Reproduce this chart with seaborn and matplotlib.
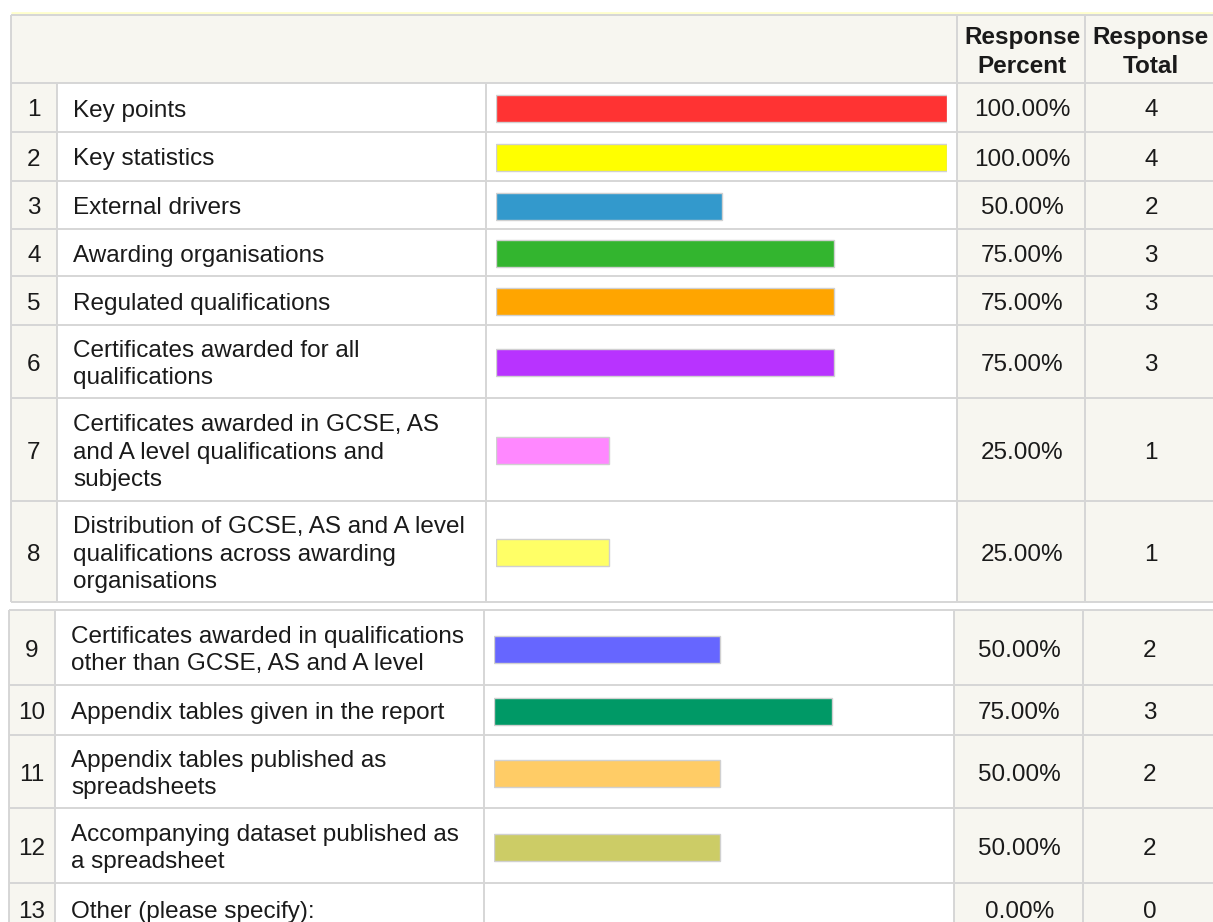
import matplotlib
matplotlib.use("Agg")
import matplotlib.pyplot as plt
from matplotlib.patches import Rectangle
import numpy as np
import pandas as pd
import seaborn as sns

# ---------------- data ----------------
numbers = list(range(1, 14))
labels = [
    "Key points",
    "Key statistics",
    "External drivers",
    "Awarding organisations",
    "Regulated qualifications",
    "Certificates awarded for all\nqualifications",
    "Certificates awarded in GCSE, AS\nand A level qualifications and\nsubjects",
    "Distribution of GCSE, AS and A level\nqualifications across awarding\norganisations",
    "Certificates awarded in qualifications\nother than GCSE, AS and A level",
    "Appendix tables given in the report",
    "Appendix tables published as\nspreadsheets",
    "Accompanying dataset published as\na spreadsheet",
    "Other (please specify):",
]
percents = [100, 100, 50, 75, 75, 75, 25, 25, 50, 75, 50, 50, 0]
totals = [4, 4, 2, 3, 3, 3, 1, 1, 2, 3, 2, 2, 0]
bar_colors = ["#FF3333", "#FFFF00", "#3399CC", "#33B52F", "#FFA500", "#B833FF",
              "#FF88FF", "#FFFF66", "#6666FF", "#009966", "#FFCC66", "#CCCC66", "#CCCCCC"]
header_percent = "Response\nPercent"
header_total = "Response\nTotal"

# ---------------- style ----------------
sns.set_style("white")
plt.rcParams["font.family"] = ["Liberation Sans", "DejaVu Sans"]

W, H = 1213, 922
FS = 17.5
TXT = "#1a1a1a"
BEIGE = "#F7F6F0"
GRID = "#D6D6D6"
LW = 1.4
DY = 3  # text baseline nudge

fig = plt.figure(figsize=(W / 100, H / 100), dpi=100)
fig.patch.set_facecolor("white")
ax = fig.add_axes([0, 0, 1, 1])
ax.set_xlim(0, W)
ax.set_ylim(H, 0)
ax.axis("off")

# header
hdr_top, hdr_bot = 15, 83
ax.add_patch(Rectangle((11, hdr_top), W - 11, hdr_bot - hdr_top, facecolor=BEIGE, edgecolor="none", zorder=0))
ax.plot([11, W], [13, 13], color="#FFFFCC", lw=2, zorder=2, solid_capstyle="butt")
ax.plot([11, W], [hdr_top, hdr_top], color=GRID, lw=LW, zorder=2, solid_capstyle="butt")
for xc in [11, 957, 1085]:
    ax.plot([xc, xc], [hdr_top, hdr_bot], color=GRID, lw=LW, zorder=2, solid_capstyle="butt")
ax.text(1022, (hdr_top + hdr_bot) / 2 + DY, header_percent, ha="center", va="center",
        fontsize=FS, fontweight="bold", color=TXT, linespacing=1.3)
ax.text(1151, (hdr_top + hdr_bot) / 2 + DY, header_total, ha="center", va="center",
        fontsize=FS, fontweight="bold", color=TXT, linespacing=1.3)

pieces = [
    dict(rows=list(range(0, 8)), edges=[83, 132, 181, 229, 276, 325, 398, 501, 602],
         cols=[11, 57, 486, 957, 1085, W], text_x=73, bar_x=496),
    dict(rows=list(range(8, 13)), edges=[610, 685, 735, 808, 883, 935],
         cols=[9, 55, 484, 954, 1083, W], text_x=71, bar_x=494),
]
BAR_FULL = 451
BAR_H = 27

for pc in pieces:
    e = pc["edges"]
    c = pc["cols"]
    top, bot = e[0], e[-1]
    # cell backgrounds
    for (x0, x1, col) in [(c[0], c[1], BEIGE), (c[1], c[3], "white"), (c[3], c[5], BEIGE)]:
        ax.add_patch(Rectangle((x0, top), x1 - x0, bot - top, facecolor=col, edgecolor="none", zorder=0))
    for yy in e:
        ax.plot([c[0], W], [yy, yy], color=GRID, lw=LW, zorder=2, solid_capstyle="butt")
    for xx in c[:5]:
        ax.plot([xx, xx], [top, bot], color=GRID, lw=LW, zorder=2, solid_capstyle="butt")

    centers = [(e[k] + e[k + 1]) / 2 for k in range(len(pc["rows"]))]
    for k, i in enumerate(pc["rows"]):
        yc = centers[k] + DY
        ax.text((c[0] + c[1]) / 2, yc, str(numbers[i]), ha="center", va="center", fontsize=FS, color=TXT)
        ax.text(pc["text_x"], yc, labels[i], ha="left", va="center", fontsize=FS, color=TXT, linespacing=1.32)
        ax.text((c[3] + c[4]) / 2 + 1, yc, f"{percents[i]:.2f}%", ha="center", va="center", fontsize=FS, color=TXT)
        ax.text((c[4] + c[5]) / 2 + 2, yc, str(totals[i]), ha="center", va="center", fontsize=FS, color=TXT)

    # bars through seaborn on a numeric (native) scale
    df = pd.DataFrame({
        "pos": [centers[k] + 1.5 for k in range(len(pc["rows"]))],
        "pct": [percents[i] for i in pc["rows"]],
        "item": [labels[i] for i in pc["rows"]],
        "color": [bar_colors[i] for i in pc["rows"]],
    })
    df = df[df["pct"] > 0]
    min_gap = np.min(np.diff(np.sort(df["pos"].values)))
    bax = fig.add_axes([pc["bar_x"] / W, 1 - bot / H, BAR_FULL / W, (bot - top) / H])
    sns.barplot(data=df, x="pct", y="pos", hue="item", hue_order=list(df["item"]),
                palette=dict(zip(df["item"], df["color"])), orient="h", native_scale=True,
                width=BAR_H / min_gap, errorbar=None, saturation=1,
                edgecolor="#D0D0D0", linewidth=1, legend=False, ax=bax)
    bax.set_xlim(0, 100)
    bax.set_ylim(bot, top)
    bax.axis("off")
    bax.patch.set_alpha(0)

fig.savefig("out.png", dpi=100, facecolor="white")
